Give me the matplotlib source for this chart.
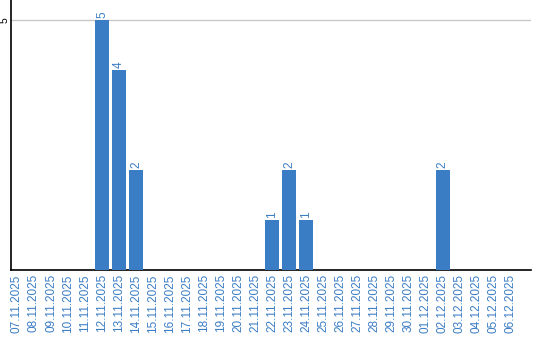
import matplotlib
matplotlib.use("Agg")
import matplotlib.pyplot as plt
import pandas as pd

# Daily counts, 07.11.2025 - 06.12.2025
dates = pd.date_range("2025-11-07", "2025-12-06", freq="D")
labels = [d.strftime("%d.%m.%Y") for d in dates]
counts = [0, 0, 0, 0, 0, 5, 4, 2, 0, 0,
          0, 0, 0, 0, 0, 1, 2, 1, 0, 0,
          0, 0, 0, 0, 0, 2, 0, 0, 0, 0]

blue = "#3b7dc4"
plt.rcParams['font.family'] = ['Liberation Sans', 'DejaVu Sans']

fig = plt.figure(figsize=(5.4, 3.4), dpi=100)
ax = fig.add_axes([0.0204, 0.2059, 0.963, 0.794])

x = list(range(len(labels)))
bars = ax.bar(x, counts, width=0.82, color=blue, zorder=3)

for xi, c in zip(x, counts):
    if c > 0:
        ax.text(xi, c + 0.04, str(c), rotation=90, ha="center", va="bottom",
                fontsize=8.5, color=blue)

ax.set_xlim(-0.35, 30.2)
ax.set_ylim(0, 5.4)
ax.set_xticks(x)
ax.set_xticklabels(labels, rotation=90, fontsize=8.5, color=blue)
ax.tick_params(axis="x", length=0, pad=3)
ax.set_yticks([5])
ax.set_yticklabels(["5"], rotation=90, fontsize=7.5, va="center")
ax.tick_params(axis="y", length=0, pad=1)
ax.axhline(5, color="#c8c8c8", lw=1, zorder=1)

for s in ["top", "right"]:
    ax.spines[s].set_visible(False)
ax.spines["left"].set_color("black")
ax.spines["bottom"].set_color("black")
ax.spines["left"].set_linewidth(1.2)
ax.spines["bottom"].set_linewidth(1.2)

fig.savefig("out.png", dpi=100)
